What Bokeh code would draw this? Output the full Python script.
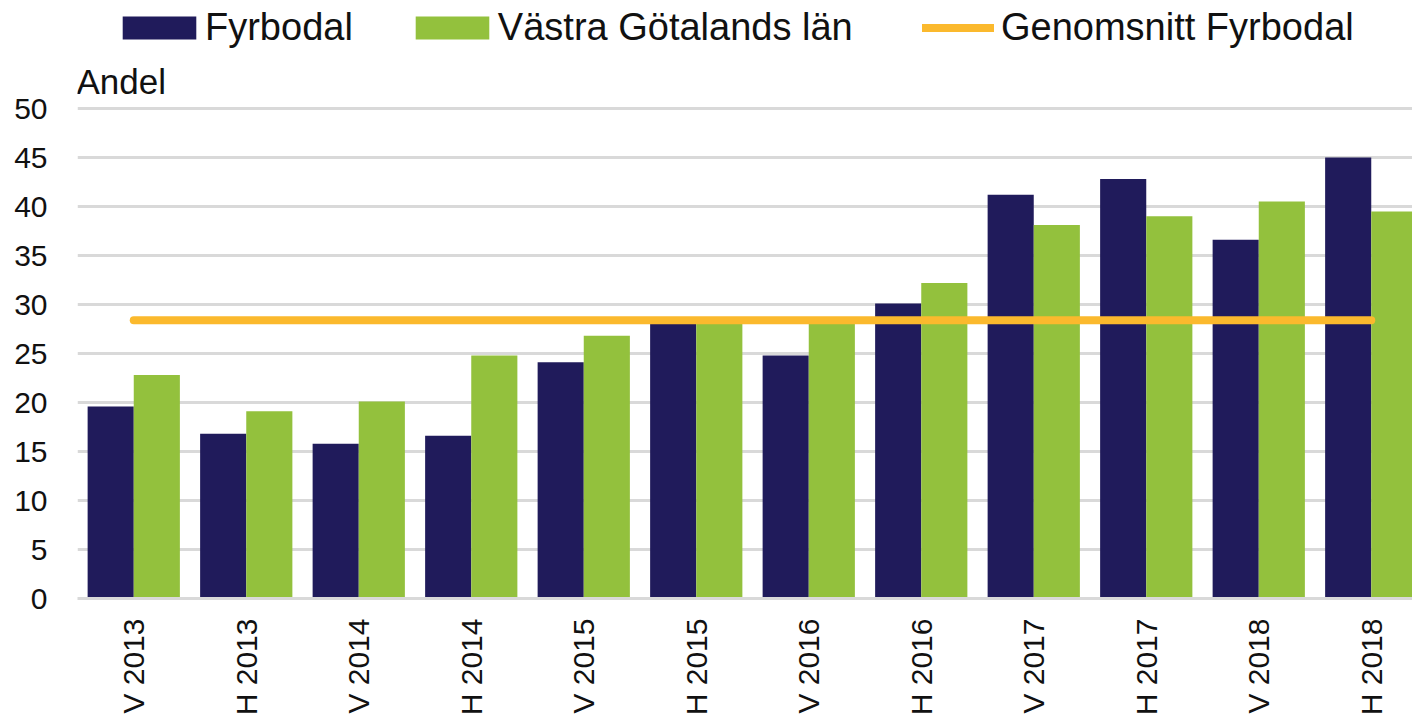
import math
from bokeh.plotting import figure
from bokeh.models import Legend, LegendItem, Label, FixedTicker, ColumnDataSource
from bokeh.embed import file_html
from bokeh.resources import INLINE

categories = ["V 2013", "H 2013", "V 2014", "H 2014", "V 2015", "H 2015",
              "V 2016", "H 2016", "V 2017", "H 2017", "V 2018", "H 2018"]
fyrbodal = [19.6, 16.8, 15.8, 16.6, 24.1, 28.2, 24.8, 30.1, 41.2, 42.8, 36.6, 45.0]
vgr = [22.8, 19.1, 20.1, 24.8, 26.8, 28.0, 28.3, 32.2, 38.1, 39.0, 40.5, 39.5]
average_fyrbodal = 28.4
y_ticks = [0, 5, 10, 15, 20, 25, 30, 35, 40, 45, 50]
series_names = ["Fyrbodal", "Västra Götalands län", "Genomsnitt Fyrbodal"]

NAVY = "#201b5b"
GREEN = "#93c13d"
ORANGE = "#fbb92d"
FONT = "Liberation Sans"
TXT = "#111111"

W, H = 1412, 724
LEFT, BOTTOM = 77, 126
PX_PER_UNIT = 9.8
CAT_PX = 112.5

centers = [i + 0.5 for i in range(len(categories))]
bw = 0.41

src = ColumnDataSource(dict(
    xf=[c - bw / 2 for c in centers],
    xv=[c + bw / 2 for c in centers],
    f=fyrbodal, v=vgr,
))

frame_h = H - BOTTOM
p = figure(width=W, height=H, output_backend="svg", toolbar_location=None,
           x_range=(0, (W - LEFT) / CAT_PX), y_range=(0, frame_h / PX_PER_UNIT),
           min_border_left=LEFT, min_border_right=0, min_border_top=0, min_border_bottom=BOTTOM)
p.outline_line_color = None
p.background_fill_color = "white"

r1 = p.vbar(x="xf", top="f", width=bw, source=src, fill_color=NAVY, line_color=None)
r2 = p.vbar(x="xv", top="v", width=bw, source=src, fill_color=GREEN, line_color=None)
r3 = p.line(x=[centers[0], centers[-1]], y=[average_fyrbodal, average_fyrbodal],
            line_color=ORANGE, line_width=8, line_cap="round")

p.xgrid.visible = False
p.ygrid.ticker = FixedTicker(ticks=y_ticks)
p.ygrid.grid_line_color = "#d9d9d9"
p.ygrid.grid_line_width = 3
p.ygrid.level = "underlay"

p.yaxis.ticker = FixedTicker(ticks=y_ticks)
p.yaxis.axis_line_color = None
p.yaxis.major_tick_line_color = None
p.yaxis.minor_tick_line_color = None
p.yaxis.major_tick_out = 0
p.yaxis.major_label_standoff = 30
p.yaxis.major_label_text_font = FONT
p.yaxis.major_label_text_font_size = "30px"
p.yaxis.major_label_text_color = TXT

p.xaxis.ticker = FixedTicker(ticks=centers)
p.xaxis.major_label_overrides = {c: lab for c, lab in zip(centers, categories)}
p.xaxis.major_label_orientation = math.pi / 2
p.xaxis.axis_line_color = "#d9d9d9"
p.xaxis.axis_line_width = 3
p.xaxis.major_tick_line_color = None
p.xaxis.minor_tick_line_color = None
p.xaxis.major_tick_out = 0
p.xaxis.major_label_standoff = 20
p.xaxis.major_label_text_font = FONT
p.xaxis.major_label_text_font_size = "30px"
p.xaxis.major_label_text_color = TXT

p.add_layout(Label(x=-1, y=517, x_units="screen", y_units="screen", text="Andel",
                   text_font=FONT, text_font_size="35px", text_color=TXT,
                   text_baseline="alphabetic"))

common = dict(orientation="horizontal", padding=0, margin=0,
              label_text_font=FONT, label_text_font_size="38px", label_text_color=TXT,
              border_line_color=None, background_fill_alpha=0)

# bar swatches: Bokeh insets area swatches by 10% on each side
legend_bars = Legend(items=[
    LegendItem(label=series_names[0], renderers=[r1]),
    LegendItem(label=series_names[1], renderers=[r2]),
], location=(36, 549), spacing=53, glyph_width=92, glyph_height=29,
    label_standoff=-3, **common)
p.add_layout(legend_bars, "center")

legend_line = Legend(items=[
    LegendItem(label=series_names[2], renderers=[r3]),
], location=(845, 549), glyph_width=72, glyph_height=23, label_standoff=7, **common)
p.add_layout(legend_line, "center")

open("out.html", "w").write(file_html(p, INLINE))
